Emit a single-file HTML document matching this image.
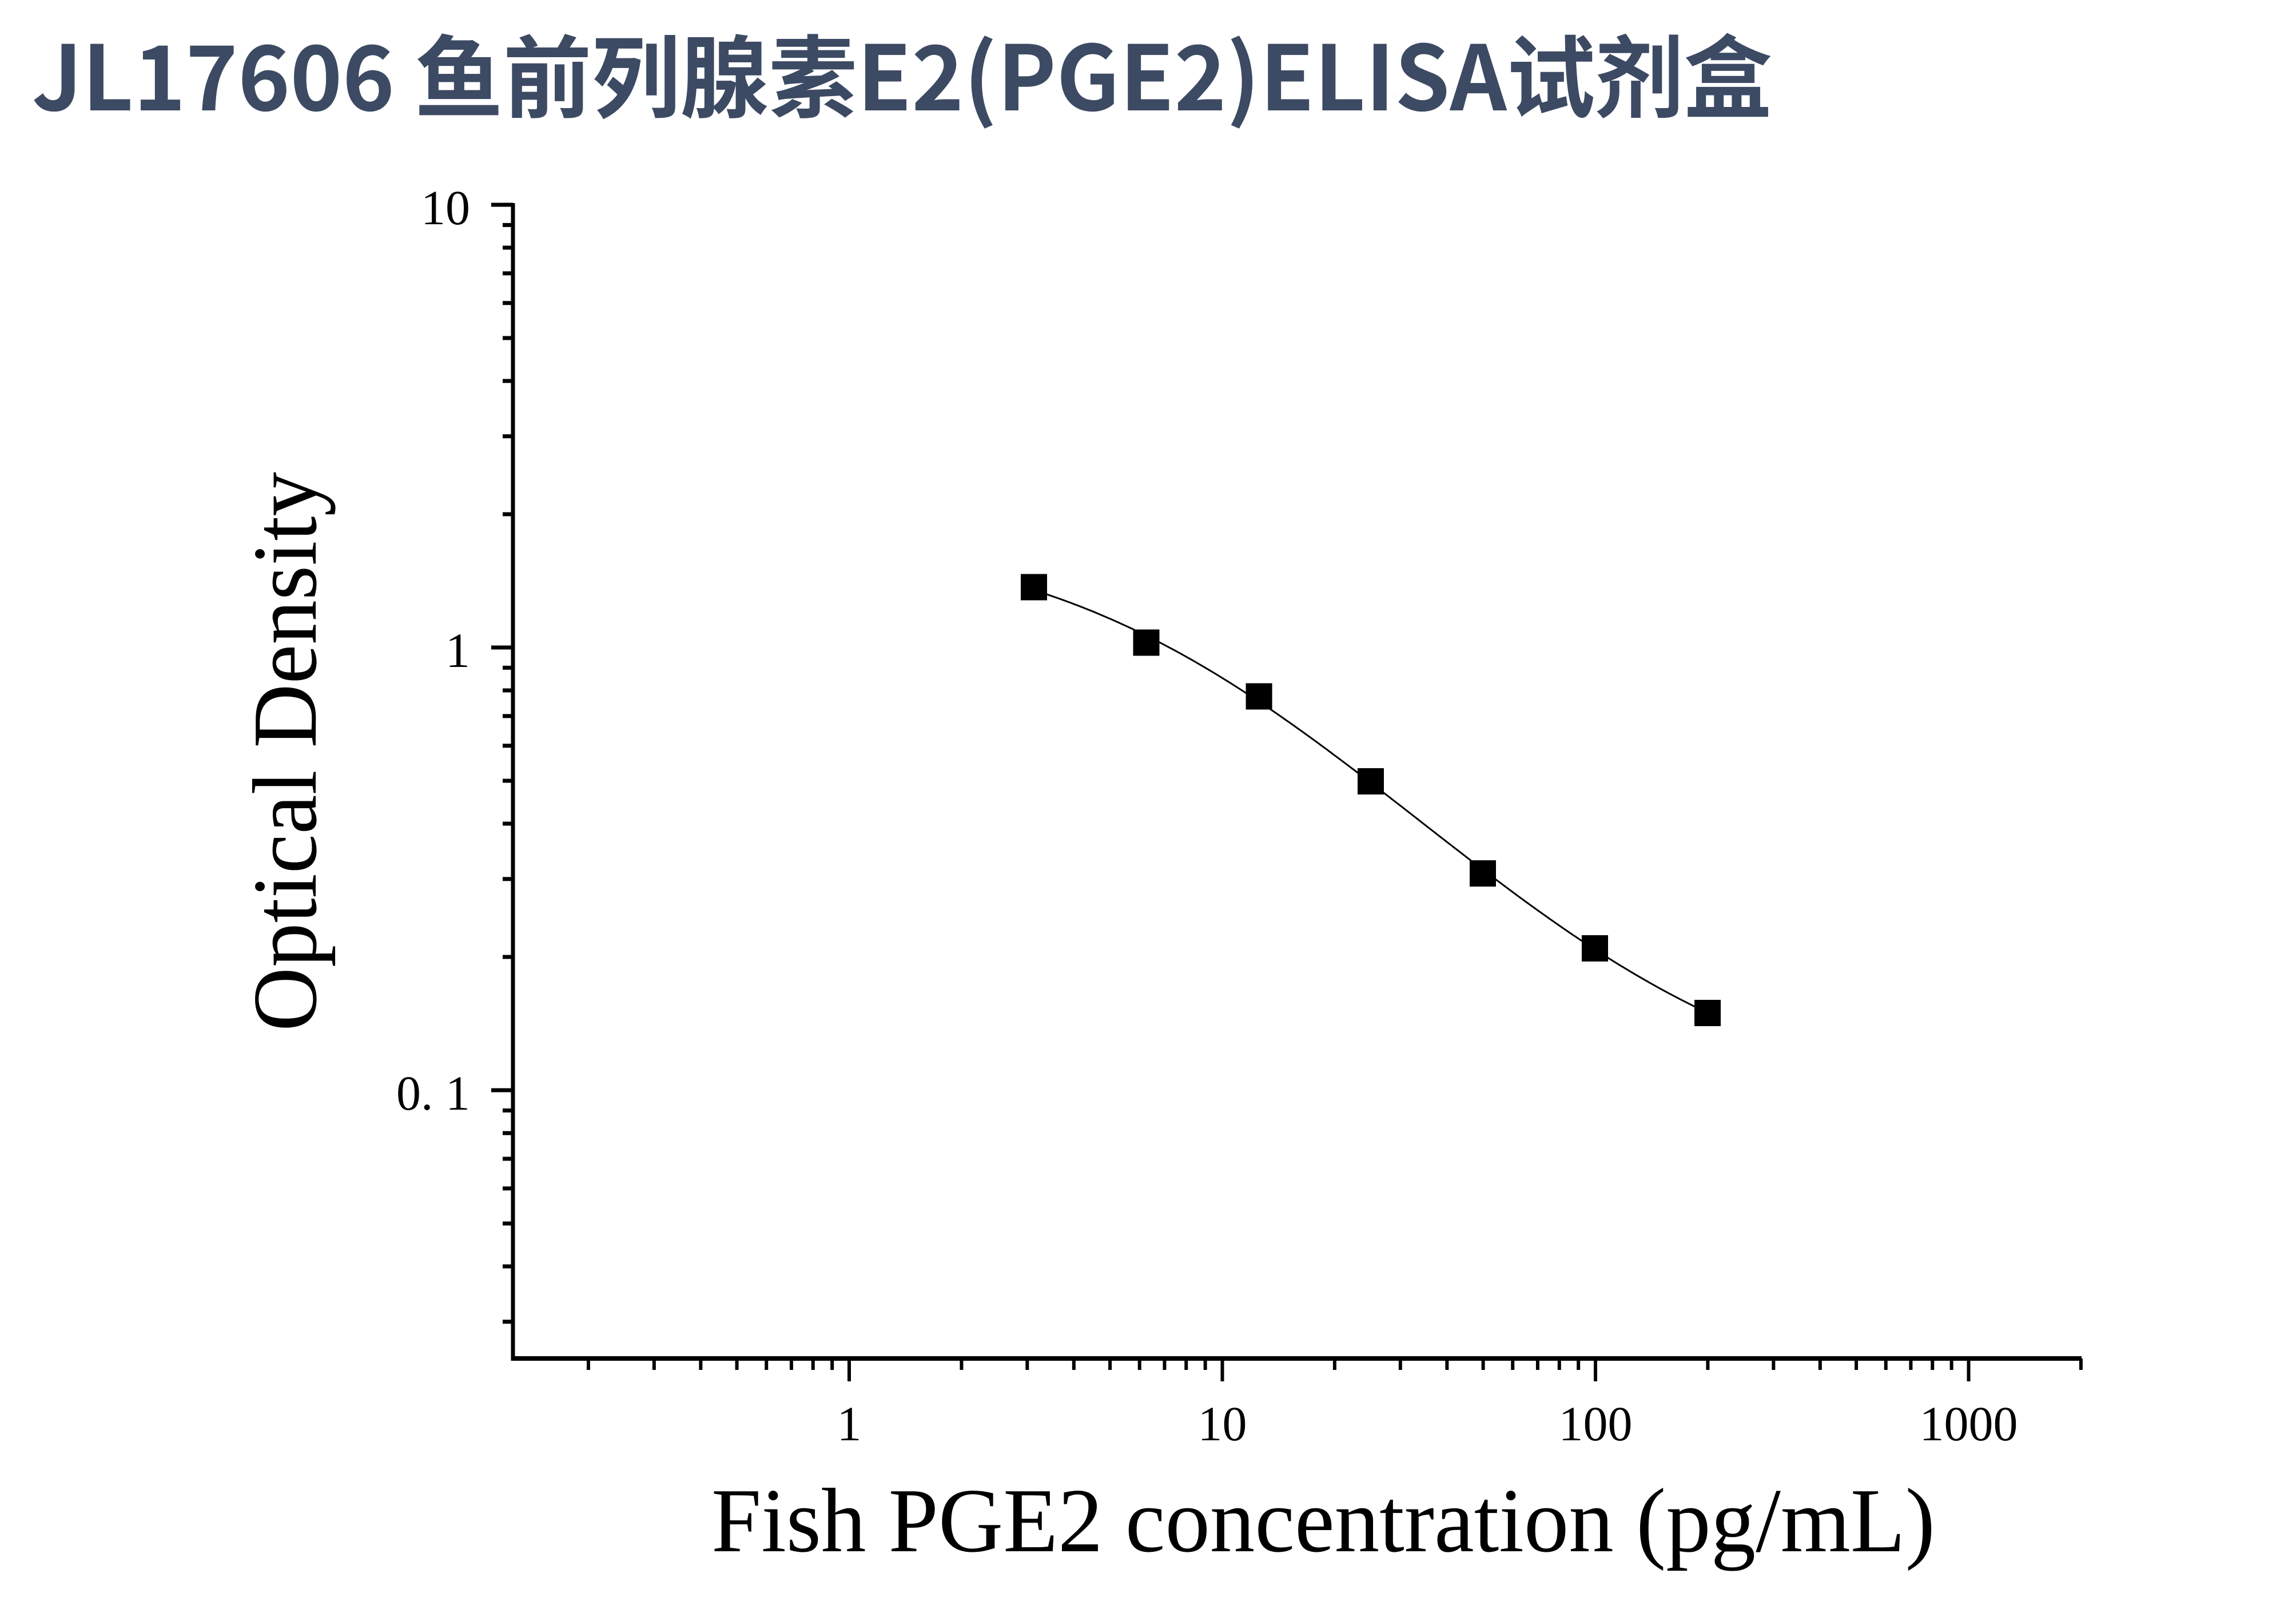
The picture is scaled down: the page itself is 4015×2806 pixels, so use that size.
<!DOCTYPE html>
<html><head><meta charset="utf-8">
<style>
html,body{margin:0;padding:0;background:#fff;}
svg{display:block;}
</style></head>
<body>
<svg id="s" xmlns="http://www.w3.org/2000/svg" width="4015" height="2806" viewBox="0 0 4015 2806">
<rect width="4015" height="2806" fill="#fff"/>
<text x="56" y="193" style="font-family:'Noto Sans CJK SC','Liberation Sans',sans-serif" font-weight="bold" font-size="157" fill="#3d4a63" textLength="3043" lengthAdjust="spacingAndGlyphs">JL17606 鱼前列腺素E2(PGE2)ELISA试剂盒</text>
<g id="ax" stroke="#000" fill="none"></g>
<g id="lbl" font-family="'Liberation Serif',serif" font-size="86" fill="#000"></g>
<text transform="translate(552,1314) rotate(-90)" text-anchor="middle" font-family="'Liberation Serif',serif" font-size="160" fill="#000" textLength="978" lengthAdjust="spacingAndGlyphs">Optical Density</text>
<text x="1244" y="2712" font-family="'Liberation Serif',serif" font-size="160" fill="#000" textLength="2140" lengthAdjust="spacingAndGlyphs">Fish PGE2 concentration (pg/mL)</text>
<path id="curve" fill="none" stroke="#000" stroke-width="3"/>
<g id="pts" fill="#000"></g>
</svg>
<script>
var NS="http://www.w3.org/2000/svg";
function el(p,t,a,txt){var e=document.createElementNS(NS,t);for(var k in a)e.setAttribute(k,a[k]);if(txt!=null)e.textContent=txt;p.appendChild(e);return e;}
var ax=document.getElementById('ax'),lbl=document.getElementById('lbl');
var X0=897,X1=3637,AY=2375,YT=358;
function xp(v){return 1485+652.5*Math.log10(v);}
function yp(v){return 1132-774*Math.log10(v);}
el(ax,'line',{x1:X0,y1:YT-3,x2:X0,y2:AY+4,'stroke-width':7});
el(ax,'line',{x1:X0-3,y1:AY,x2:X1+3,y2:AY,'stroke-width':8});
[10,1,0.1].forEach(function(v){var y=yp(v);el(ax,'line',{x1:X0-38,y1:y,x2:X0,y2:y,'stroke-width':7});});
[1,0.1,0.01].forEach(function(d){for(var i=2;i<=9;i++){var v=i*d;if(v<0.026)continue;var y=yp(v);el(ax,'line',{x1:X0-18,y1:y,x2:X0,y2:y,'stroke-width':7});}});
[1,10,100,1000].forEach(function(v){var x=xp(v);el(ax,'line',{x1:x,y1:AY,x2:x,y2:AY+40,'stroke-width':6});});
[0.1,1,10,100,1000].forEach(function(d){for(var i=2;i<=9;i++){var v=i*d;if(v>2001)continue;var x=xp(v);el(ax,'line',{x1:x,y1:AY,x2:x,y2:AY+20,'stroke-width':6});}});
[['10',10],['1',1],['0. 1',0.1]].forEach(function(t){el(lbl,'text',{x:822,y:yp(t[1])+34,'text-anchor':'end'},t[0]);});
[['1',1],['10',10],['100',100],['1000',1000]].forEach(function(t){el(lbl,'text',{x:xp(t[1]),y:2518,'text-anchor':'middle'},t[0]);});
var P=[[1808,1026.5],[2004.5,1123.5],[2201.6,1217.5],[2397,1366],[2593,1527],[2789,1658],[2986,1771]];
var pts=document.getElementById('pts');
P.forEach(function(p){el(pts,'rect',{x:p[0]-23,y:p[1]-23,width:46,height:46});});
// 4PL fit: y = d + (a-d)/(1+(x/c)^b), with x,y in data units
var xs=[3.125,6.25,12.5,25,50,100,200];
var ys=P.map(function(p){return Math.pow(10,(1132-p[1])/774);});
function f(q,x){return q[3]+(q[0]-q[3])/(1+Math.pow(x/q[2],q[1]));}
function err(q){if(q[2]<=0||q[1]<=0)return 1e9;var s=0;for(var i=0;i<xs.length;i++){var v=f(q,xs[i]);if(v<=0)return 1e9;var e=Math.log10(v)-Math.log10(ys[i]);s+=e*e;}return s;}
var q=[1.8,0.8,20,0.05],st=[0.2,0.1,5,0.02],best=err(q);
for(var it=0;it<4000;it++){var imp=false;for(var k=0;k<4;k++){for(var sg=-1;sg<=1;sg+=2){var t=q.slice();t[k]+=sg*st[k];var e=err(t);if(e<best){best=e;q=t;imp=true;}}}if(!imp){for(var k2=0;k2<4;k2++)st[k2]*=0.6;}}
var d='';
for(var i=0;i<=200;i++){var lx=Math.log10(3.125)+(Math.log10(200)-Math.log10(3.125))*i/200;var x=Math.pow(10,lx);var y=f(q,x);d+=(i?' L':'M')+xp(x).toFixed(1)+','+yp(y).toFixed(1);}
document.getElementById('curve').setAttribute('d',d);
</script>
</body></html>
